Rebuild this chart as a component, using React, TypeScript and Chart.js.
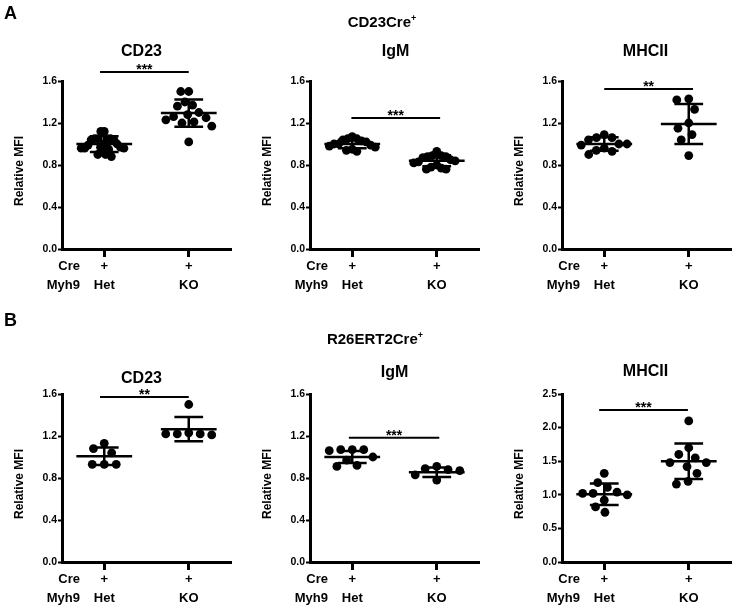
import React, { useEffect, useRef } from "react";
import { Chart, registerables } from "chart.js";

Chart.register(...registerables);

// ---------------- data ----------------
const panelLetters = ["A", "B"];
const rowHeaders = ["CD23Cre", "R26ERT2Cre"];
const panelTitles = ["CD23", "IgM", "MHCII", "CD23", "IgM", "MHCII"];
const groupNames = ["Het", "KO"];
const creStatus = ["+", "+"];
const rowLabelNames = ["Cre", "Myh9"];
const yAxisTitle = "Relative MFI";
const yMaxes = [1.6, 1.6, 1.6, 1.6, 1.6, 2.5];
const ySteps = [0.4, 0.4, 0.4, 0.4, 0.4, 0.5];

// A: CD23Cre+
const aCd23Het = [1.12, 1.12, 1.05, 1.05, 1.04, 1.05, 1.04, 1.05, 0.99, 1.0, 1.0, 0.96, 0.97, 0.95, 0.96, 0.97, 0.96, 0.9, 0.88, 0.9];
const aCd23Ko = [1.5, 1.5, 1.4, 1.37, 1.36, 1.3, 1.28, 1.26, 1.25, 1.23, 1.21, 1.2, 1.17, 1.02];
const aIgmHet = [1.07, 1.05, 1.05, 1.04, 1.03, 1.02, 1.0, 1.0, 0.99, 0.98, 0.97, 0.95, 0.94, 0.93];
const aIgmKo = [0.93, 0.89, 0.89, 0.88, 0.88, 0.87, 0.85, 0.84, 0.83, 0.82, 0.8, 0.78, 0.77, 0.76, 0.76];
const aMhcHet = [1.09, 1.06, 1.06, 1.04, 1.0, 1.0, 0.99, 0.96, 0.94, 0.93, 0.9];
const aMhcKo = [1.42, 1.43, 1.33, 1.2, 1.15, 1.09, 1.04, 0.89];
// B: R26ERT2Cre+
const bCd23Het = [1.13, 1.08, 1.04, 0.93, 0.93, 0.93];
const bCd23Ko = [1.5, 1.22, 1.22, 1.23, 1.22, 1.21];
const bIgmHet = [1.07, 1.07, 1.07, 1.06, 1.0, 0.97, 0.92, 0.91];
const bIgmKo = [0.91, 0.89, 0.88, 0.87, 0.83, 0.78];
const bMhcHet = [1.32, 1.18, 1.11, 1.04, 1.02, 1.02, 1.0, 0.92, 0.82, 0.74];
const bMhcKo = [2.1, 1.7, 1.6, 1.55, 1.48, 1.48, 1.42, 1.32, 1.16, 1.2];

const hetValues = [aCd23Het, aIgmHet, aMhcHet, bCd23Het, bIgmHet, bMhcHet];
const koValues = [aCd23Ko, aIgmKo, aMhcKo, bCd23Ko, bIgmKo, bMhcKo];

const hetMeans = [1.0, 1.0, 1.0, 1.007, 1.0, 1.01];
const hetSds = [0.075, 0.04, 0.064, 0.083, 0.058, 0.16];
const koMeans = [1.295, 0.84, 1.19, 1.265, 0.855, 1.5];
const koSds = [0.13, 0.053, 0.19, 0.115, 0.045, 0.265];

const sigStars = ["***", "***", "**", "**", "***", "***"];
const sigHeights = [1.686, 1.248, 1.524, 1.572, 1.184, 2.262];
const sigFrom = [0.95, 0.99, 1.0, 0.95, 0.96, 0.94];
const sigTo = [2.0, 2.04, 2.05, 2.0, 2.03, 1.99];

// ---------------- layout / style ----------------
const FONT = '"Liberation Sans", Arial, Helvetica, sans-serif';
const INK = "#000";
const CANVAS_LEFTS = [0, 248, 500];
const CANVAS_W = 238;
const ROW_TOPS = [0, 300];
const ROW_HEIGHTS = [300, 307];
const PLOT_TOPS = [81, 94];
const PLOT_H = 168;
const PLOT_W = 169;
const Y_AXIS_W = 62;
const X_AXIS_H = 45;
const X_MIN = 0.5;
const X_MAX = 2.5;
const DOT_R = 4.4;
const SWARM_D = 12;
const SWARM_MAX_HALF = 23;
const MEAN_HALF = 0.33;
const CAP_HALF = 0.17;
const BAR_W = 2.5;
const TITLE_GAPS = [29, 29, 29, 15, 21, 22];
const TITLE_DX = [-5, 1, -1, -5, 0, -1];

// Beeswarm arrangement of the dots of one group, limited to a fixed column width.
function dotPlotX(values: number[], center: number, yMax: number): number[] {
  const pxPerY = PLOT_H / yMax;
  const pxPerX = PLOT_W / (X_MAX - X_MIN);
  const d = SWARM_D;
  const order = values.map((_, i) => i).sort((a, b) => values[b] - values[a]);
  const placed: { x: number; y: number }[] = [];
  const off: number[] = values.map(() => 0);
  for (const i of order) {
    const y = values[i] * pxPerY;
    const iv: [number, number][] = [];
    for (const p of placed) {
      const dy = Math.abs(p.y - y);
      if (dy < d) {
        const w = Math.sqrt(d * d - dy * dy);
        iv.push([p.x - w, p.x + w]);
      }
    }
    const cands = [0];
    iv.forEach(([a, b]) => cands.push(a, b));
    cands.sort((a, b) => Math.abs(a) - Math.abs(b) || a - b);
    let x = 0;
    for (const c of cands) {
      if (iv.every(([a, b]) => c <= a + 1e-6 || c >= b - 1e-6)) {
        x = c;
        break;
      }
    }
    placed.push({ x, y });
    off[i] = x;
  }
  const maxAbs = Math.max(...off.map(Math.abs), 1e-9);
  const k = maxAbs > SWARM_MAX_HALF ? SWARM_MAX_HALF / maxAbs : 1;
  return off.map((o) => center + (o * k) / pxPerX);
}

function makeDecor(idx: number) {
  return {
    id: "decor" + idx,
    afterDatasetsDraw(chart: any) {
      const { ctx, scales } = chart;
      const xs = scales.x;
      const ys = scales.y;
      ctx.save();
      ctx.strokeStyle = INK;
      ctx.lineWidth = BAR_W;
      const groups: [number, number, number][] = [
        [1, hetMeans[idx], hetSds[idx]],
        [2, koMeans[idx], koSds[idx]],
      ];
      for (const [c, m, s] of groups) {
        const xm0 = xs.getPixelForValue(c - MEAN_HALF);
        const xm1 = xs.getPixelForValue(c + MEAN_HALF);
        const xc0 = xs.getPixelForValue(c - CAP_HALF);
        const xc1 = xs.getPixelForValue(c + CAP_HALF);
        const xc = xs.getPixelForValue(c);
        const ym = ys.getPixelForValue(m);
        const yt = ys.getPixelForValue(m + s);
        const yb = ys.getPixelForValue(m - s);
        ctx.beginPath();
        ctx.moveTo(xm0, ym);
        ctx.lineTo(xm1, ym);
        ctx.moveTo(xc0, yt);
        ctx.lineTo(xc1, yt);
        ctx.moveTo(xc0, yb);
        ctx.lineTo(xc1, yb);
        ctx.moveTo(xc, yt);
        ctx.lineTo(xc, yb);
        ctx.stroke();
      }
      ctx.restore();
    },
    afterDraw(chart: any) {
      const { ctx, chartArea, scales } = chart;
      const xs = scales.x;
      const ys = scales.y;
      ctx.save();
      ctx.fillStyle = INK;
      ctx.strokeStyle = INK;
      // panel title
      ctx.font = `bold 16px ${FONT}`;
      ctx.textAlign = "center";
      ctx.textBaseline = "middle";
      ctx.fillText(
        panelTitles[idx],
        (chartArea.left + chartArea.right) / 2 + TITLE_DX[idx],
        chartArea.top - TITLE_GAPS[idx]
      );
      // y axis title
      ctx.save();
      ctx.translate(chartArea.left - 42, (chartArea.top + chartArea.bottom) / 2 + 6);
      ctx.rotate(-Math.PI / 2);
      ctx.font = `bold 12px ${FONT}`;
      ctx.fillText(yAxisTitle, 0, 0);
      ctx.restore();
      // significance bar
      const sy = ys.getPixelForValue(sigHeights[idx]);
      const sx0 = xs.getPixelForValue(sigFrom[idx]);
      const sx1 = xs.getPixelForValue(sigTo[idx]);
      ctx.lineWidth = 2;
      ctx.beginPath();
      ctx.moveTo(sx0, sy);
      ctx.lineTo(sx1, sy);
      ctx.stroke();
      ctx.font = `bold 14px ${FONT}`;
      ctx.textBaseline = "alphabetic";
      ctx.fillText(sigStars[idx], (sx0 + sx1) / 2, sy + 2.5);
      // row labels (Cre / Myh9)
      ctx.font = `bold 13px ${FONT}`;
      ctx.textAlign = "right";
      ctx.textBaseline = "middle";
      ctx.fillText(rowLabelNames[0], chartArea.left + 18, chartArea.bottom + 17.5);
      ctx.fillText(rowLabelNames[1], chartArea.left + 18, chartArea.bottom + 36.5);
      ctx.restore();
    },
  };
}

function Panel({ idx }: { idx: number }) {
  const ref = useRef<HTMLCanvasElement>(null);
  const row = Math.floor(idx / 3);
  const col = idx % 3;
  useEffect(() => {
    const yMax = yMaxes[idx];
    const het = hetValues[idx];
    const ko = koValues[idx];
    const hetX = dotPlotX(het, 1, yMax);
    const koX = dotPlotX(ko, 2, yMax);
    const pointStyle = {
      pointRadius: DOT_R,
      pointHoverRadius: DOT_R,
      pointBackgroundColor: INK,
      pointBorderWidth: 0,
      backgroundColor: INK,
      borderColor: INK,
      showLine: false,
      clip: false as any,
    };
    const tickFontY = { family: FONT, size: 10.5, weight: "bold" as const };
    const tickFontX = { family: FONT, size: 13, weight: "bold" as const, lineHeight: 19 / 13 };
    const chart = new Chart(ref.current as HTMLCanvasElement, {
      type: "scatter",
      data: {
        datasets: [
          { label: groupNames[0], data: het.map((v, i) => ({ x: hetX[i], y: v })), ...pointStyle },
          { label: groupNames[1], data: ko.map((v, i) => ({ x: koX[i], y: v })), ...pointStyle },
        ],
      },
      options: {
        animation: false,
        responsive: false,
        events: [],
        layout: {
          padding: {
            top: PLOT_TOPS[row],
            left: 0,
            right: CANVAS_W - Y_AXIS_W - PLOT_W,
            bottom: ROW_HEIGHTS[row] - PLOT_TOPS[row] - PLOT_H - X_AXIS_H,
          },
        },
        plugins: { legend: { display: false }, tooltip: { enabled: false }, title: { display: false } },
        scales: {
          x: {
            type: "linear",
            min: X_MIN,
            max: X_MAX,
            afterFit: (s: any) => {
              s.height = X_AXIS_H;
            },
            afterBuildTicks: (s: any) => {
              s.ticks = [{ value: 1 }, { value: 2 }];
            },
            ticks: {
              color: INK,
              font: tickFontX,
              padding: 0,
              maxRotation: 0,
              autoSkip: false,
              callback: (_v: any, i: number) => [creStatus[i], groupNames[i]],
            },
            grid: {
              display: true,
              drawOnChartArea: false,
              drawTicks: true,
              tickLength: 8,
              tickWidth: 3,
              tickColor: INK,
              color: INK,
            },
            border: { display: true, color: INK, width: 3 },
          },
          y: {
            type: "linear",
            min: 0,
            max: yMax,
            afterFit: (s: any) => {
              s.width = Y_AXIS_W;
            },
            ticks: {
              stepSize: ySteps[idx],
              color: INK,
              font: tickFontY,
              padding: 1,
              callback: (v: any) => Number(v).toFixed(1),
            },
            grid: {
              display: true,
              drawOnChartArea: false,
              drawTicks: true,
              tickLength: 4,
              tickWidth: 2,
              tickColor: INK,
              color: INK,
            },
            border: { display: true, color: INK, width: 3 },
          },
        },
      } as any,
      plugins: [makeDecor(idx)],
    });
    return () => chart.destroy();
  }, [idx]);
  return (
    <canvas
      ref={ref}
      width={CANVAS_W}
      height={ROW_HEIGHTS[row]}
      style={{
        position: "absolute",
        left: CANVAS_LEFTS[col],
        top: ROW_TOPS[row],
        width: CANVAS_W,
        height: ROW_HEIGHTS[row],
      }}
    />
  );
}

function Label(props: { x: number; y: number; size: number; center?: boolean; children: React.ReactNode }) {
  const { x, y, size, center, children } = props;
  return (
    <div
      style={{
        position: "absolute",
        left: x,
        top: y,
        transform: center ? "translate(-50%, -50%)" : "translate(0, -50%)",
        fontFamily: FONT,
        fontWeight: "bold",
        fontSize: size,
        lineHeight: 1,
        whiteSpace: "nowrap",
        color: INK,
      }}
    >
      {children}
    </div>
  );
}

const sup = (t: string) => (
  <sup style={{ fontSize: "0.6em", verticalAlign: "0.6em", lineHeight: 0 }}>{t}</sup>
);

export default function App() {
  return (
    <div
      style={{
        position: "absolute",
        left: 0,
        top: 0,
        width: 733,
        height: 607,
        overflow: "hidden",
        background: "#fff",
      }}
    >
      {[0, 1, 2, 3, 4, 5].map((i) => (
        <Panel key={i} idx={i} />
      ))}
      <Label x={4} y={12.5} size={18}>{panelLetters[0]}</Label>
      <Label x={4} y={320} size={18}>{panelLetters[1]}</Label>
      <Label x={382} y={21} size={15} center>
        {rowHeaders[0]}
        {sup("+")}
      </Label>
      <Label x={375} y={338} size={15} center>
        {rowHeaders[1]}
        {sup("+")}
      </Label>
    </div>
  );
}
